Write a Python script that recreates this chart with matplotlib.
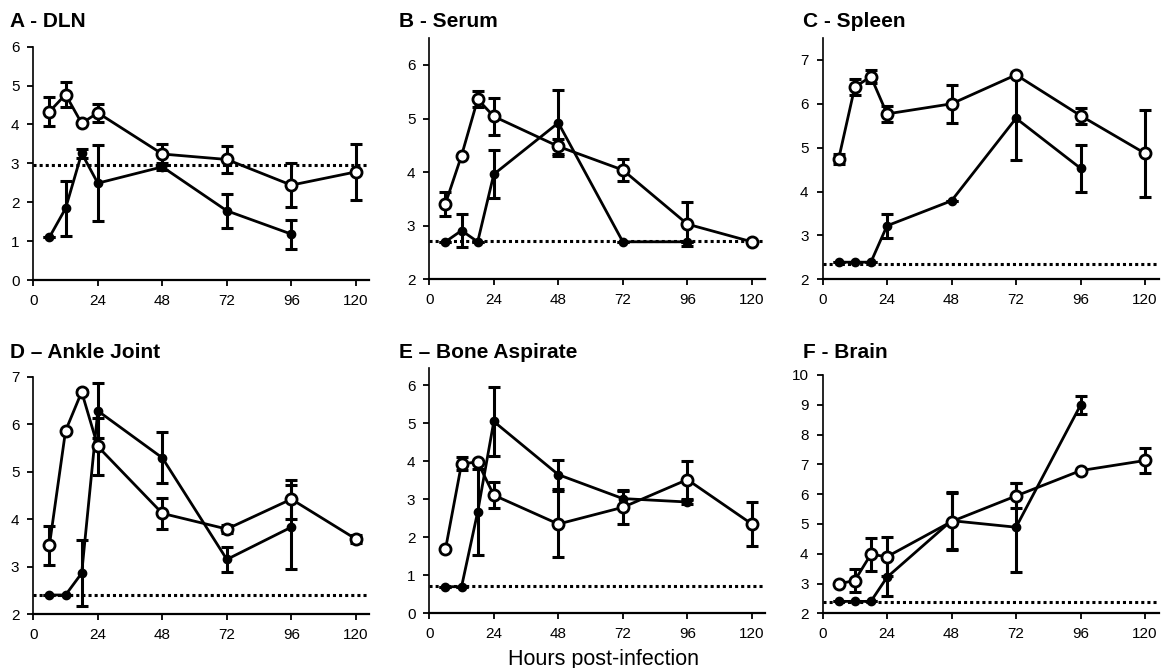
import matplotlib
matplotlib.use("Agg")
import matplotlib.pyplot as plt

plt.rcParams['font.family'] = ['Liberation Sans', 'DejaVu Sans']

# sampling times (hours post-infection)
hours = [6, 12, 18, 24, 48, 72, 96, 120]
hours_filled = [6, 12, 18, 24, 48, 72, 96]

# A - DLN
a_open = [4.33, 4.77, 4.03, 4.30, 3.24, 3.10, 2.44, 2.78]
a_open_err = [0.38, 0.33, 0, 0.23, 0.27, 0.35, 0.57, 0.73]
a_filled = [1.10, 1.84, 3.26, 2.49, 2.91, 1.78, 1.18]
a_filled_err = [0, 0.70, 0.11, 0.97, 0.09, 0.43, 0.37]
a_lod = 2.97

# B - Serum
b_open = [3.41, 4.31, 5.36, 5.04, 4.48, 4.04, 3.03, 2.70]
b_open_err = [0.22, 0, 0.15, 0.35, 0.14, 0.21, 0.41, 0]
b_filled = [2.70, 2.91, 2.70, 3.96, 4.92, 2.70, 2.70]
b_filled_err = [0, 0.30, 0, 0.45, 0.61, 0, 0]
b_lod = 2.72

# C - Spleen
c_open = [4.74, 6.38, 6.62, 5.77, 6.00, 6.66, 5.73, 4.87]
c_open_err = [0.11, 0.19, 0.15, 0.18, 0.44, 0, 0.18, 0.99]
c_filled = [2.39, 2.39, 2.39, 3.22, 3.79, 5.67, 4.53]
c_filled_err = [0, 0, 0, 0.27, 0, 0.95, 0.53]
c_lod = 2.36

# D - Ankle Joint
d_open = [3.45, 5.86, 6.68, 5.53, 4.12, 3.79, 4.42, 3.58]
d_open_err = [0.41, 0, 0.05, 0.60, 0.32, 0.08, 0.41, 0.08]
d_filled = [2.40, 2.40, 2.86, 6.28, 5.29, 3.15, 3.83]
d_filled_err = [0, 0, 0.69, 0.58, 0.54, 0.27, 0.88]
d_lod = 2.40

# E - Bone Aspirate
e_open = [1.68, 3.94, 3.98, 3.11, 2.35, 2.79, 3.52, 2.35]
e_open_err = [0, 0.18, 0, 0.34, 0.87, 0.45, 0.50, 0.57]
e_filled = [0.70, 0.70, 2.67, 5.05, 3.65, 3.02, 2.93]
e_filled_err = [0, 0, 1.14, 0.90, 0.38, 0.20, 0.06]
e_lod = 0.72

# F - Brain
f_open = [2.99, 3.10, 3.98, 3.90, 5.08, 5.94, 6.79, 7.13]
f_open_err = [0, 0.40, 0.56, 0.65, 0.97, 0.42, 0, 0.42]
f_filled = [2.40, 2.40, 2.40, 3.21, 5.11, 4.89, 8.99]
f_filled_err = [0, 0, 0, 0.62, 0.95, 1.49, 0.29]
f_lod = 2.39

titles = ['A - DLN', 'B - Serum', 'C - Spleen',
          'D \u2013 Ankle Joint', 'E \u2013 Bone Aspirate', 'F - Brain']
xticks = [0, 24, 48, 72, 96, 120]

panels = [
    (a_open, a_open_err, a_filled, a_filled_err, a_lod, (0, 6), range(0, 7)),
    (b_open, b_open_err, b_filled, b_filled_err, b_lod, (2, 6.5), range(2, 7)),
    (c_open, c_open_err, c_filled, c_filled_err, c_lod, (2, 7.5), range(2, 8)),
    (d_open, d_open_err, d_filled, d_filled_err, d_lod, (2, 7), range(2, 8)),
    (e_open, e_open_err, e_filled, e_filled_err, e_lod, (0, 6.45), range(0, 7)),
    (f_open, f_open_err, f_filled, f_filled_err, f_lod, (2, 10), range(2, 11)),
]

# axes rectangles in figure fractions
W, H = 1162, 668
lefts = [33.3, 429.3, 822.5]
width = 336 / W
rects = [
    (lefts[0] / W, 1 - 280 / H, width, 233.3 / H),
    (lefts[1] / W, 1 - 279.3 / H, width, 241.1 / H),
    (lefts[2] / W, 1 - 279.3 / H, width, 241.3 / H),
    (lefts[0] / W, 1 - 614 / H, width, 237.3 / H),
    (lefts[1] / W, 1 - 613.3 / H, width, 245 / H),
    (lefts[2] / W, 1 - 613.3 / H, width, 238.3 / H),
]
title_pos = [(10, 27), (399, 27), (803, 27), (10, 358), (399, 358), (803, 358)]

fig = plt.figure(figsize=(11.62, 6.68), dpi=100)

for i, (op, op_err, fi, fi_err, lod, ylim, yt) in enumerate(panels):
    ax = fig.add_axes(rects[i])

    # detection limit
    ax.axhline(lod, color='black', lw=2.2, ls=(0, (1, 1)), zorder=1)

    # filled circles
    ax.errorbar(hours_filled, fi, yerr=fi_err, fmt='none', ecolor='black',
                elinewidth=2.2, capsize=4, capthick=2.2, zorder=2)
    ax.plot(hours_filled, fi, '-o', color='black', lw=2, ms=6, zorder=3)

    # open circles
    ax.errorbar(hours, op, yerr=op_err, fmt='none', ecolor='black',
                elinewidth=2.2, capsize=4, capthick=2.2, zorder=4)
    ax.plot(hours, op, '-o', color='black', lw=2, ms=8, mfc='white',
            mec='black', mew=2, zorder=5)

    ax.set_xlim(0, 125)
    ax.set_ylim(*ylim)
    ax.set_xticks(xticks)
    ax.set_yticks(list(yt))
    ax.spines['top'].set_visible(False)
    ax.spines['right'].set_visible(False)
    ax.spines['left'].set_linewidth(1.2)
    ax.spines['bottom'].set_linewidth(1.6)
    ax.tick_params(direction='out', length=4, width=1.3, pad=6, labelsize=11)

    tx, ty = title_pos[i]
    fig.text(tx / W, 1 - ty / H, titles[i], fontsize=15, fontweight='bold',
             ha='left', va='baseline')

fig.text(604 / W, 1 - 665 / H, 'Hours post-infection', fontsize=15.5,
         ha='center', va='baseline')

fig.savefig('out.png', dpi=100)
